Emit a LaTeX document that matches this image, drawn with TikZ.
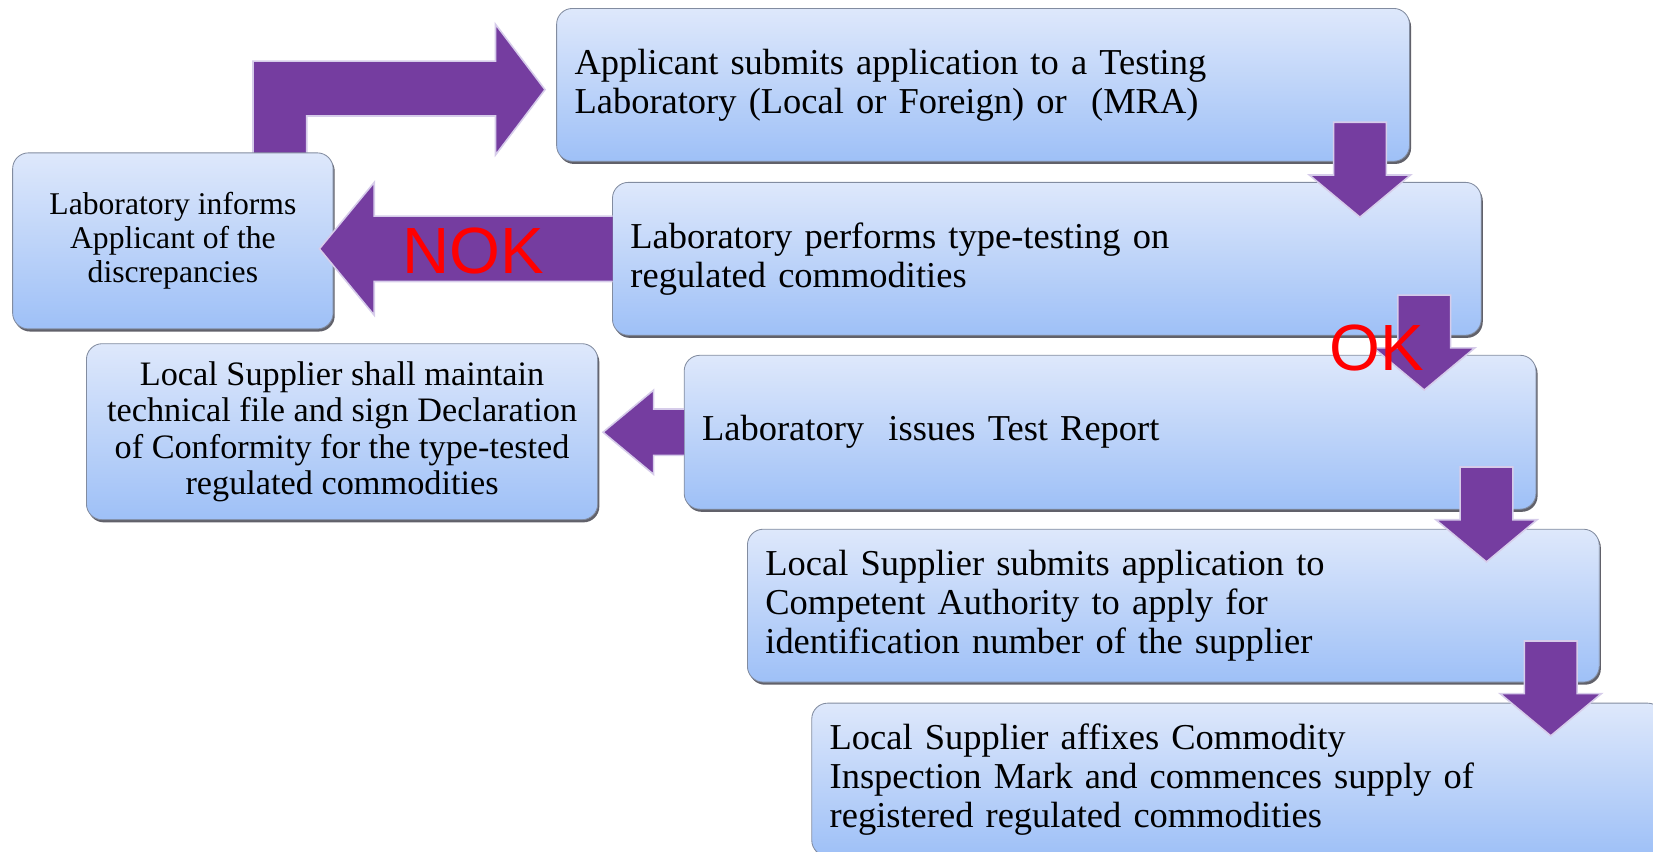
\documentclass[tikz,border=0pt]{standalone}
\usepackage{fontspec}
\setmainfont{Liberation Serif}
\newfontfamily\labelfont{Liberation Sans}
\usetikzlibrary{shadows}
\definecolor{boxtop}{RGB}{222,232,251}
\definecolor{boxbot}{RGB}{158,192,247}
\definecolor{boxline}{RGB}{130,140,160}
\definecolor{arrowpurple}{RGB}{117,61,160}
\definecolor{arrowedge}{RGB}{214,204,234}
\definecolor{shadowgray}{RGB}{80,80,90}
\tikzset{
  procbox/.style={draw=boxline, line width=0.8pt, rounded corners=15pt,
    top color=boxtop, bottom color=boxbot, inner xsep=17pt, inner ysep=0pt,
    drop shadow={shadow xshift=1.5pt, shadow yshift=-2.5pt, fill=shadowgray, opacity=0.9}},
  bigtext/.style={font=\fontsize{34.6}{37}\selectfont, align=left},
  blockarrow/.style={fill=arrowpurple, draw=arrowedge, line width=1.5pt, line join=miter},
  redlabel/.style={text=red, font=\labelfont\fontsize{62}{62}\selectfont, inner sep=0pt},
  darrow/.pic={\path[blockarrow] (-25,0) -- (25,0) -- (25,50) -- (48,50) -- (0,90) -- (-48,50) -- (-25,50) -- cycle;}
}
\begin{document}
\begin{tikzpicture}[x=1pt,y=-1pt]
\useasboundingbox (0,0) rectangle (1568,808);
% bent arrow from L to A
\path[blockarrow] (240,150) -- (240,58) -- (470,58) -- (470,23) -- (517,85) -- (470,147) -- (470,110) -- (291,110) -- (291,150) -- cycle;

\node[procbox, bigtext, text width=775pt, minimum width=809pt, minimum height=145pt] (A) at (932.5,80.5)
  {Applicant submits application to a Testing\\Laboratory (Local or Foreign) or~ (MRA)};
\node[procbox, bigtext, text width=790pt, minimum width=824pt, minimum height=145pt] (B) at (993,245.5)
  {Laboratory performs type-testing on\\regulated commodities};
\node[procbox, bigtext, text width=774pt, minimum width=808pt, minimum height=146pt] (C) at (1053,410)
  {Laboratory~ issues Test Report};
\node[procbox, bigtext, text width=774pt, minimum width=808pt, minimum height=145pt] (D) at (1113,574.5)
  {Local Supplier submits application to\\Competent Authority to apply for\\identification number of the supplier};
\node[procbox, bigtext, text width=774pt, minimum width=808pt, minimum height=145pt] (E) at (1174,739.5)
  {Local Supplier affixes Commodity\\Inspection Mark and commences supply of\\registered regulated commodities};
\node[procbox, font=\fontsize{30}{32.5}\selectfont, align=center, minimum width=304pt, minimum height=167pt] (L) at (164,228.5)
  {Laboratory informs\\Applicant of the\\discrepancies};
\node[procbox, font=\fontsize{32.5}{34.5}\selectfont, align=center, minimum width=485pt, minimum height=167pt] (S) at (324.5,409.5)
  {Local Supplier shall maintain\\technical file and sign Declaration\\of Conformity for the type-tested\\regulated commodities};

% down arrows
\pic at (1290,116) {darrow};
\pic at (1351,280) {darrow};
\pic at (1410,443) {darrow};
\pic at (1471,608) {darrow};
% NOK arrow B -> L
\path[blockarrow] (581,205) -- (355,205) -- (355,173) -- (303,236) -- (355,299) -- (355,267) -- (581,267);
% small arrow C -> S
\path[blockarrow] (649,388) -- (620,388) -- (620,370) -- (572,410) -- (620,450) -- (620,432) -- (649,432);

\node[redlabel] (nok) at (449,238) {NOK};
\node[redlabel] (ok) at (1306,330) {OK};
\end{tikzpicture}
\end{document}
